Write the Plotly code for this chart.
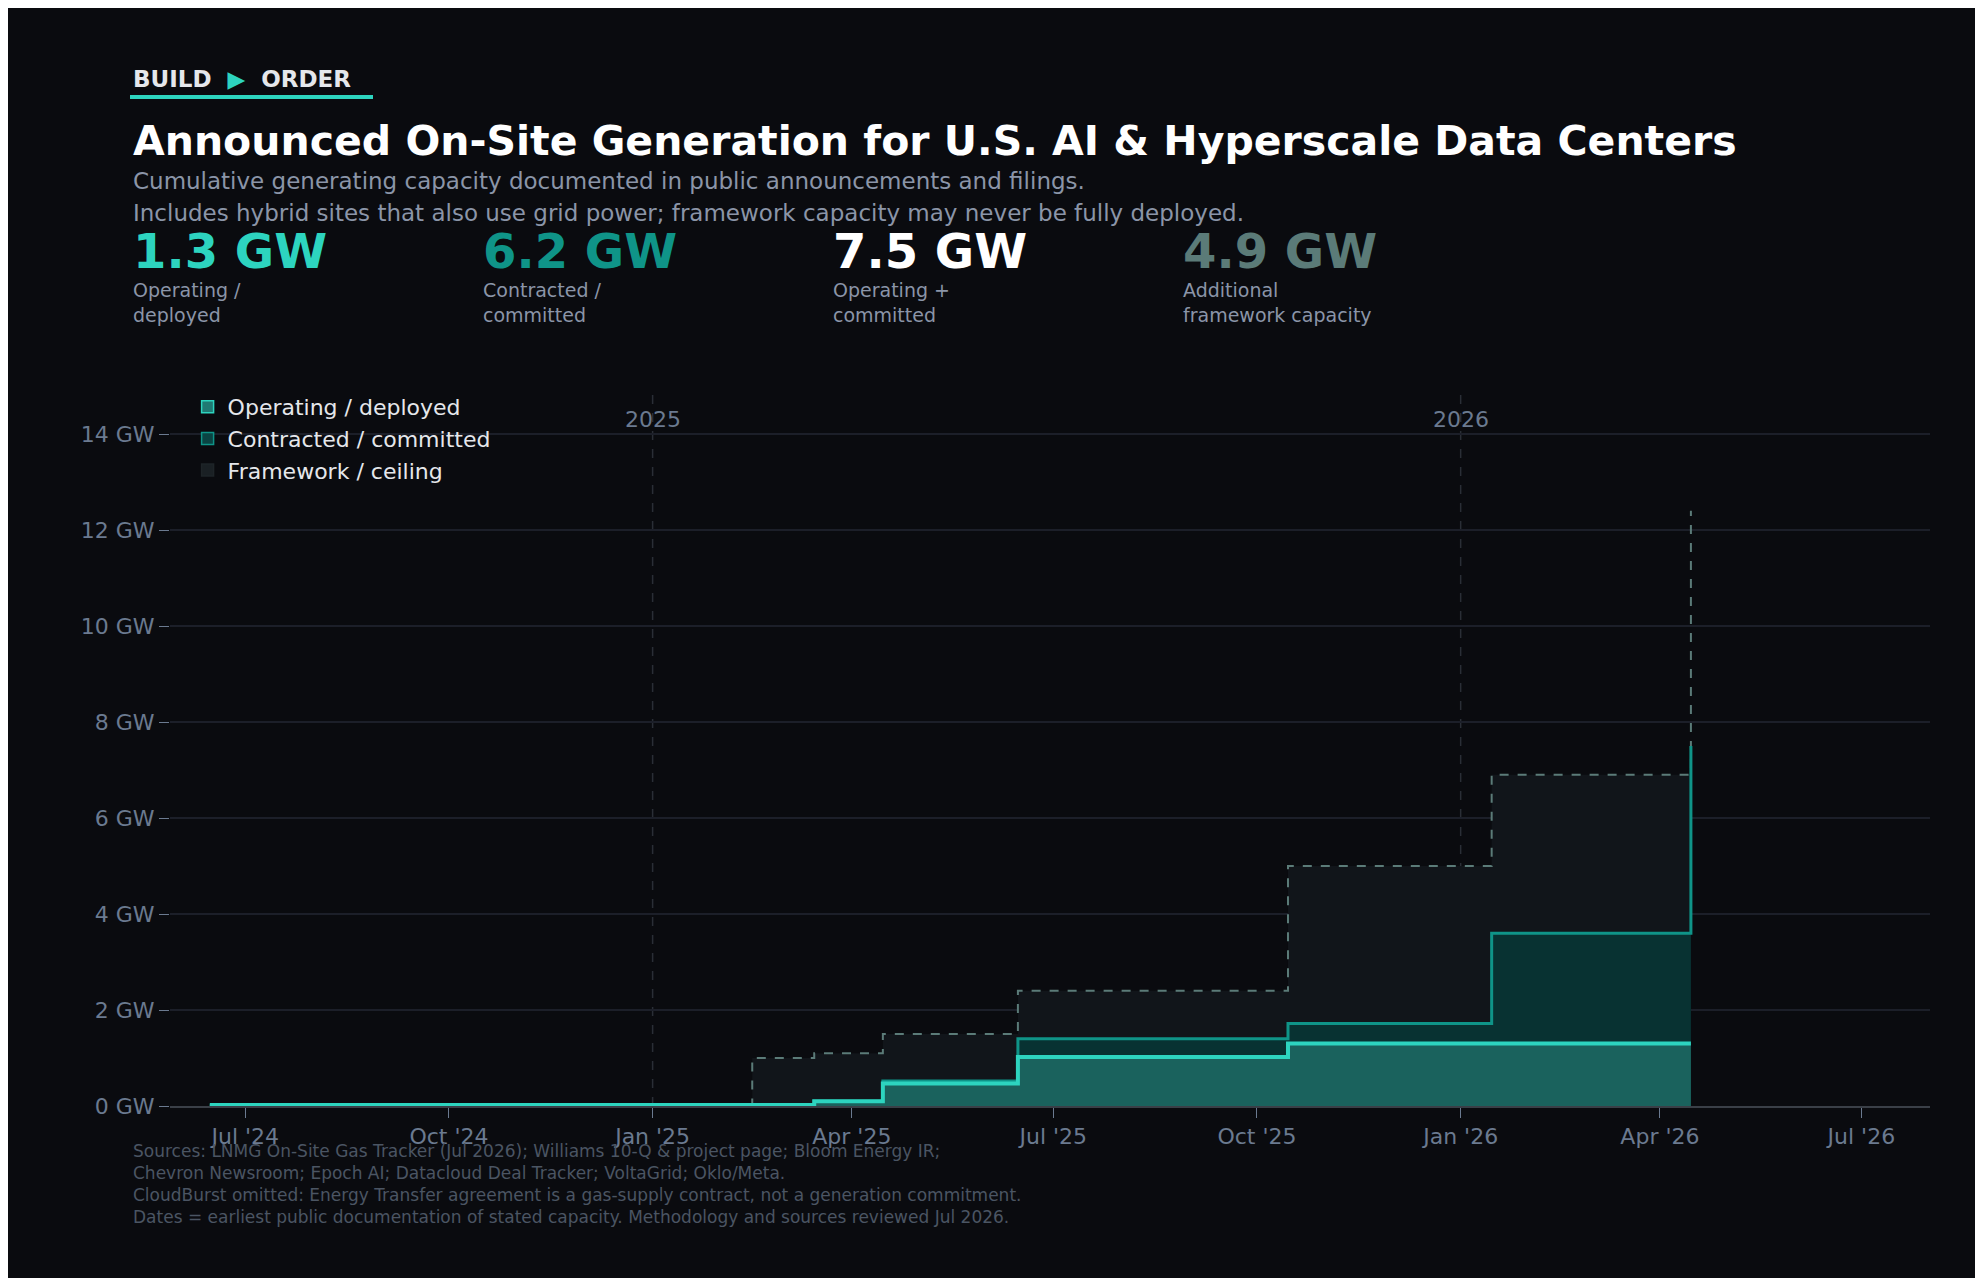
import plotly.graph_objects as go

# DATA
dates = ["2024-06-15", "2025-02-15", "2025-03-15", "2025-04-15", "2025-06-15",
         "2025-10-15", "2026-01-15", "2026-04-15", "2026-04-15"]
operating = [0.02, 0.02, 0.10, 0.47, 1.02, 1.30, 1.30, 1.30, 1.30]
committed_total = [0.02, 0.02, 0.10, 0.52, 1.40, 1.72, 3.60, 3.60, 7.50]
framework_total = [0.02, 1.00, 1.10, 1.50, 2.40, 5.00, 6.90, 6.90, 12.40]

tick_dates = ["2024-07-01", "2024-10-01", "2025-01-01", "2025-04-01", "2025-07-01",
              "2025-10-01", "2026-01-01", "2026-04-01", "2026-07-01"]
tick_labels = ["Jul '24", "Oct '24", "Jan '25", "Apr '25", "Jul '25",
               "Oct '25", "Jan '26", "Apr '26", "Jul '26"]
year_lines = ["2025-01-01", "2026-01-01"]
year_labels = ["2025", "2026"]

kpi_values = ["1.3 GW", "6.2 GW", "7.5 GW", "4.9 GW"]
kpi_labels = ["Operating /<br>deployed", "Contracted /<br>committed",
              "Operating +<br>committed", "Additional<br>framework capacity"]
kpi_colors = ["#2dd4bf", "#0f9488", "#ffffff", "#5b7b78"]

sources = ("Sources: LNMG On-Site Gas Tracker (Jul 2026); Williams 10-Q & project page; Bloom Energy IR;<br>"
           "Chevron Newsroom; Epoch AI; Datacloud Deal Tracker; VoltaGrid; Oklo/Meta.<br>"
           "CloudBurst omitted: Energy Transfer agreement is a gas-supply contract, not a generation commitment.<br>"
           "Dates = earliest public documentation of stated capacity. Methodology and sources reviewed Jul 2026.")

# CONFIG
W, H = 1983, 1278
L, R, T, B = 162, 61, 378, 180
BG = "#0a0b0f"
MUTED = "#6b7a90"
FONT = "DejaVu Sans"


def px(x):
    return (x - L) / (W - L - R)


def py(y):
    return (H - B - y) / (H - T - B)


fig = go.Figure()
series = [
    ("Framework / ceiling", framework_total, "#5b7b78", 2, "dash", "#11151a", "#1a2024"),
    ("Contracted / committed", committed_total, "#0f9488", 3, "solid", "#083232", "#0a4443"),
    ("Operating / deployed", operating, "#2dd4bf", 4, "solid", "#1a625d", "#1f7a73"),
]
for name, ys, lc, lw, dash, fc, swatch in series:
    fig.add_trace(go.Scatter(
        x=dates, y=ys, name=name, mode="lines", showlegend=False,
        line=dict(shape="hv", color=lc, width=lw, dash=dash),
        fill="tozeroy", fillcolor=fc))
    # legend-only swatch (filled box like the reference)
    fig.add_trace(go.Bar(x=[None], y=[None], name=name,
                         marker=dict(color=swatch, line=dict(color=lc if dash == "solid" else "#1e2428", width=1.5))))

for d, lab in zip(year_lines, year_labels):
    fig.add_shape(type="line", x0=d, x1=d, y0=0, y1=15, xref="x", yref="y",
                  line=dict(color="#2a2e36", width=1.5, dash="dash"), layer="below")
    fig.add_annotation(x=d, y=14.3, xref="x", yref="y", text=lab, showarrow=False,
                       font=dict(size=22, color=MUTED, family=FONT))

ann = []
ann.append(dict(x=px(123), y=py(71), text="<b>BUILD  <span style='color:#2dd4bf'>▶</span>  ORDER</b>",
                font=dict(size=23, color="#e5e7eb")))
ann.append(dict(x=px(123), y=py(133), text="<b>Announced On-Site Generation for U.S. AI & Hyperscale Data Centers</b>",
                font=dict(size=41, color="#ffffff")))
ann.append(dict(x=px(123), y=py(173), text="Cumulative generating capacity documented in public announcements and filings.",
                font=dict(size=23, color="#8b95a8")))
ann.append(dict(x=px(123), y=py(205), text="Includes hybrid sites that also use grid power; framework capacity may never be fully deployed.",
                font=dict(size=23, color="#8b95a8")))
for i, (v, lab, c) in enumerate(zip(kpi_values, kpi_labels, kpi_colors)):
    x0 = 123 + i * 350
    ann.append(dict(x=px(x0), y=py(243), text=f"<b>{v}</b>", font=dict(size=48, color=c)))
    ann.append(dict(x=px(x0), y=py(294), text=lab, font=dict(size=19, color="#8b95a8")))
ann.append(dict(x=px(123), y=py(1176), text=sources, font=dict(size=17, color="#4b5563")))
for a in ann:
    fig.add_annotation(xref="paper", yref="paper", xanchor="left", yanchor="middle",
                       showarrow=False, align="left", **a)

fig.add_shape(type="line", xref="paper", yref="paper", x0=px(122), x1=px(365),
              y0=py(89), y1=py(89), line=dict(color="#2dd4bf", width=4))

fig.update_layout(
    width=W, height=H,
    margin=dict(l=L, r=R, t=T, b=B),
    paper_bgcolor=BG, plot_bgcolor=BG,
    font=dict(family=FONT, color=MUTED, size=22),
    showlegend=True,
    legend=dict(x=0.01, y=1.0, xanchor="left", yanchor="top", bgcolor="rgba(0,0,0,0)",
                traceorder="reversed", font=dict(size=22, color="#e5e7eb")),
    xaxis=dict(range=["2024-05-28", "2026-08-01"], tickvals=tick_dates, ticktext=tick_labels,
               showgrid=False, zeroline=False, showline=True, linecolor="#3a3f47", linewidth=2,
               ticks="outside", ticklen=10, tickcolor=MUTED, tickfont=dict(size=22, color=MUTED)),
    yaxis=dict(range=[0, 15], tickvals=[0, 2, 4, 6, 8, 10, 12, 14],
               ticktext=[f"{v} GW" for v in [0, 2, 4, 6, 8, 10, 12, 14]],
               showgrid=True, gridcolor="#1c1f29", gridwidth=1.5, zeroline=False,
               ticks="outside", ticklen=10, tickcolor=MUTED, tickfont=dict(size=22, color=MUTED)),
)

fig.write_html("out.html")
